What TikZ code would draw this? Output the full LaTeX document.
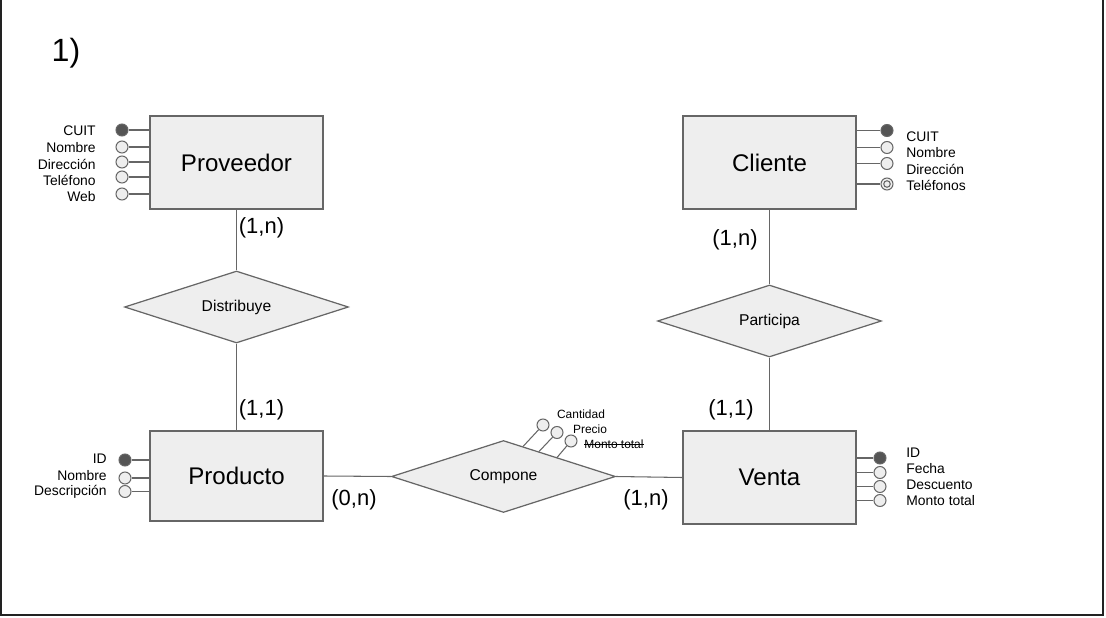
\documentclass[tikz,border=0pt]{standalone}
\usepackage{fontspec}
\setmainfont{Liberation Sans}
\usetikzlibrary{shapes.geometric}

\definecolor{boxfill}{HTML}{EEEEEE}
\definecolor{lineclr}{HTML}{666666}
\definecolor{keyfill}{HTML}{555555}
\definecolor{frameclr}{HTML}{222222}

\tikzset{
  entidad/.style={draw=lineclr, line width=0.8pt, fill=boxfill, minimum width=3.46cm, minimum height=1.86cm, font=\fontsize{13.7}{16}\selectfont},
  relacion/.style={diamond, aspect=3.1, draw=lineclr, line width=0.7pt, fill=boxfill, minimum width=4.48cm, minimum height=1.44cm, inner sep=0pt, font=\fontsize{8.9}{10}\selectfont},
  attr/.style={circle, draw=lineclr, line width=0.6pt, fill=boxfill, minimum size=0.24cm, inner sep=0pt},
  clave/.style={attr, fill=keyfill},
  multi/.style={attr, path picture={\draw[lineclr, line width=0.6pt] (path picture bounding box.center) circle (0.065cm);}},
  linea/.style={draw=lineclr, line width=0.6pt},
  etiq/.style={font=\fontsize{7.9}{9}\selectfont, inner sep=0pt},
  etiqchica/.style={font=\fontsize{6.8}{8}\selectfont, inner sep=0pt},
  card/.style={font=\fontsize{12.5}{14}\selectfont, inner sep=0pt}
}

\begin{document}
\begin{tikzpicture}[x=0.02cm, y=-0.02cm]
\useasboundingbox (0, 0) rectangle (1106, 618);
\draw [frameclr, line width=1.2pt] (1, 0) -- (1, 615) -- (1103, 615) -- (1103, 0);
\node (titulo) at (66, 53) {\fontsize{18.3}{20}\selectfont 1)};

% entidades y relaciones
\node [entidad] (prov) at (236.5, 162.5) {Proveedor};
\node [entidad] (cli) at (769.5, 162.5) {Cliente};
\node [entidad, minimum height=1.80cm] (prod) at (236.5, 476) {Producto};
\node [entidad] (venta) at (769.5, 477.5) {Venta};
\node [relacion] (dist) at (236.5, 307) {Distribuye};
\node [relacion] (part) at (769.5, 321) {Participa};
\node [relacion] (comp) at (503.5, 476.5) {Compone};

\draw [linea] (prov.south) -- (dist.north);
\draw [linea] (dist.south) -- (prod.north);
\draw [linea] (cli.south) -- (part.north);
\draw [linea] (part.south) -- (venta.north);
\draw [linea] (prod.east) -- (comp.west);
\draw [linea] (comp.east) -- (venta.west);

% cardinalidades
\node [card] (c1) at (261.5, 228) {(1,n)};
\node [card] (c2) at (261.5, 410) {(1,1)};
\node [card] (c3) at (735, 240) {(1,n)};
\node [card] (c4) at (731, 410) {(1,1)};
\node [card] (c5) at (354, 500) {(0,n)};
\node [card] (c6) at (646, 500) {(1,n)};

% atributos Proveedor
\node [clave] (pa1) at (122, 130) {};
\draw [linea] (pa1) -- (pa1 -| prov.west);
\node [etiq, anchor=east] (pl1) at (96, 131) {CUIT};
\foreach \y/\t/\ly [count=\i from 2] in {147/Nombre/148, 162/Dirección/164, 177/Teléfono/180, 194/Web/197}{
  \node [attr] (pa\i) at (122, \y) {};
  \draw [linea] (pa\i) -- (pa\i -| prov.west);
  \node [etiq, anchor=east] (pl\i) at (96, \ly) {\t};
}

% atributos Cliente
\node [clave] (ca1) at (887, 130.5) {};
\draw [linea] (ca1) -- (ca1 -| cli.east);
\node [etiq, anchor=west] (cl1) at (906, 137) {CUIT};
\foreach \y/\t/\ly [count=\i from 2] in {147.5/Nombre/153, 163.5/Dirección/169}{
  \node [attr] (ca\i) at (887, \y) {};
  \draw [linea] (ca\i) -- (ca\i -| cli.east);
  \node [etiq, anchor=west] (cl\i) at (906, \ly) {\t};
}
\node [multi] (ca4) at (887, 184) {};
\draw [linea] (ca4) -- (ca4 -| cli.east);
\node [etiq, anchor=west] (cl4) at (906, 185) {Teléfonos};

% atributos Producto
\node [clave] (ra1) at (125, 460) {};
\draw [linea] (ra1) -- (ra1 -| prod.west);
\node [etiq, anchor=east] (rl1) at (107, 459) {ID};
\foreach \y/\t/\ly [count=\i from 2] in {478/Nombre/476, 491.5/Descripción/492}{
  \node [attr] (ra\i) at (125, \y) {};
  \draw [linea] (ra\i) -- (ra\i -| prod.west);
  \node [etiq, anchor=east] (rl\i) at (107, \ly) {\t};
}

% atributos Venta
\node [clave] (va1) at (880, 458) {};
\draw [linea] (va1) -- (va1 -| venta.east);
\node [etiq, anchor=west] (vl1) at (906, 453) {ID};
\foreach \y/\t/\ly [count=\i from 2] in {472.5/Fecha/469, 486.5/Descuento/485, 500.5/Monto total/501}{
  \node [attr] (va\i) at (880, \y) {};
  \draw [linea] (va\i) -- (va\i -| venta.east);
  \node [etiq, anchor=west] (vl\i) at (906, \ly) {\t};
}

% atributos Compone
\coordinate (cp1) at (523, 446.5);
\coordinate (cp2) at (539, 451.5);
\coordinate (cp3) at (557, 457.5);
\node [attr] (ka1) at (543, 425) {};
\node [attr] (ka2) at (557, 432.5) {};
\node [attr] (ka3) at (571, 441) {};
\draw [linea] (ka1) -- (cp1);
\draw [linea] (ka2) -- (cp2);
\draw [linea] (ka3) -- (cp3);
\node [etiqchica] (kl1) at (581, 414) {Cantidad};
\node [etiqchica] (kl2) at (590, 429) {Precio};
\node [etiqchica] (kl3) at (614, 444) {Monto total};
\draw [line width=0.5pt] (kl3.west) -- (kl3.east);
\end{tikzpicture}
\end{document}
